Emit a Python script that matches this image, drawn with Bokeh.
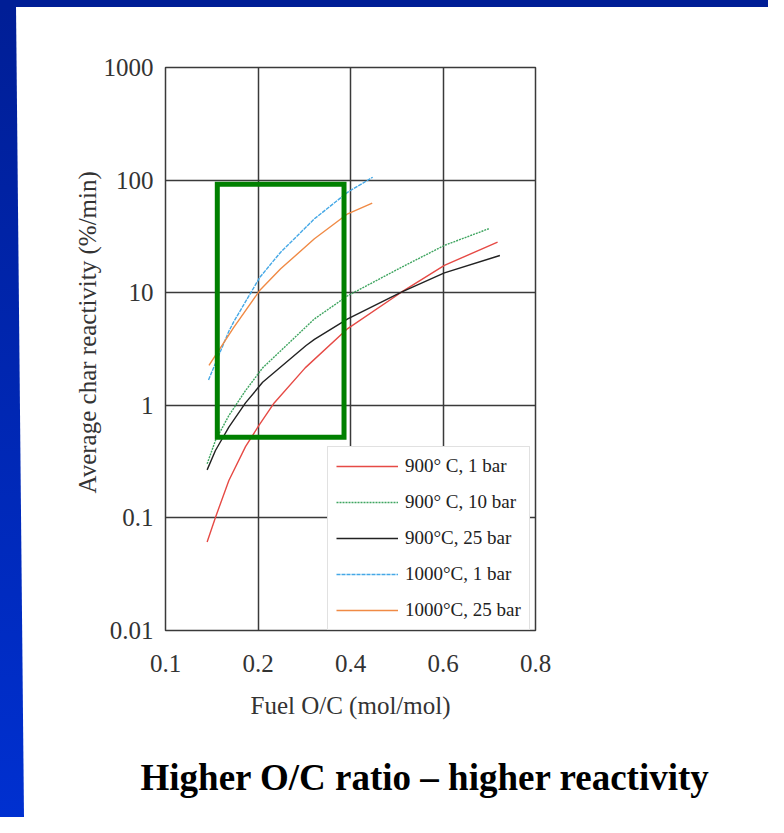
from bokeh.plotting import figure
from bokeh.models import (Range1d, FixedTicker, CustomJSTickFormatter, Div,
                          Legend, LegendItem, Title)
from bokeh.layouts import column, row
from bokeh.embed import file_html
from bokeh.resources import INLINE

# ---------------- data ----------------
X_TICKS = [0.0, 0.2, 0.4, 0.6, 0.8]
X_TICK_LABELS = ["0.1", "0.2", "0.4", "0.6", "0.8"]
Y_TICKS = [0.01, 0.1, 1, 10, 100, 1000]

red_x = [0.090, 0.108, 0.137, 0.173, 0.202, 0.235, 0.302, 0.394, 0.510, 0.603, 0.718]
red_y = [0.061, 0.101, 0.215, 0.430, 0.662, 1.05, 2.15, 4.80, 10.1, 17.5, 28.1]

green_x = [0.090, 0.108, 0.137, 0.173, 0.210, 0.322, 0.394, 0.510, 0.603, 0.699]
green_y = [0.302, 0.487, 0.811, 1.35, 2.15, 5.85, 9.40, 16.8, 26.3, 37.0]

black_x = [0.090, 0.108, 0.137, 0.173, 0.210, 0.304, 0.322, 0.394, 0.510, 0.603, 0.723]
black_y = [0.267, 0.397, 0.640, 1.05, 1.60, 3.40, 3.85, 5.86, 10.1, 15.0, 21.4]

blue_x = [0.093, 0.137, 0.148, 0.204, 0.249, 0.322, 0.394, 0.448]
blue_y = [1.68, 4.55, 5.56, 13.7, 22.9, 45.3, 78.1, 106]

orange_x = [0.094, 0.148, 0.204, 0.249, 0.322, 0.394, 0.447]
orange_y = [2.26, 4.94, 10.5, 16.3, 30.1, 50.2, 62.4]

SERIES_NAMES = ["900\u00b0 C, 1 bar", "900\u00b0 C, 10 bar", "900\u00b0C, 25 bar",
                "1000\u00b0C, 1 bar", "1000\u00b0C, 25 bar"]

# highlighted region
box_left, box_right = 0.112, 0.386
box_bottom, box_top = 0.52, 92

Y_LABEL = "Average char reactivity (%/min)"
X_LABEL = "Fuel O/C (mol/mol)"
TITLE = "Higher O/C ratio \u2013 higher reactivity"

# ---------------- styles ----------------
FONT = "Liberation Serif"
COLORS = ["#e64a45", "#3fa560", "#222222", "#45a8e6", "#f08a45"]
DASHES = ["solid", "2 1", "solid", "4 1", "solid"]
GRID = "#3a3a3a"
TEXT = "#333333"

p = figure(frame_width=370, frame_height=563,
           min_border_left=141, min_border_right=233,
           min_border_top=60, min_border_bottom=187,
           x_range=Range1d(0, 0.8), y_range=Range1d(0.01, 1000),
           y_axis_type="log", output_backend="svg", toolbar_location=None,
           background_fill_color="white", border_fill_color="white")

p.outline_line_color = GRID
p.outline_line_width = 1.5

p.xaxis.ticker = FixedTicker(ticks=X_TICKS)
p.xaxis.formatter = CustomJSTickFormatter(
    args=dict(pos=X_TICKS, labels=X_TICK_LABELS),
    code="const i = pos.findIndex(v => Math.abs(v - tick) < 1e-9); return i >= 0 ? labels[i] : '';")
p.yaxis.ticker = FixedTicker(ticks=Y_TICKS)
p.yaxis.formatter = CustomJSTickFormatter(
    code="return tick >= 1 ? tick.toFixed(0) : tick.toPrecision(1);")

for ax in (p.xaxis[0], p.yaxis[0]):
    ax.axis_line_color = None
    ax.major_tick_line_color = None
    ax.minor_tick_line_color = None
    ax.major_tick_out = 0
    ax.major_tick_in = 0
    ax.minor_tick_out = 0
    ax.minor_tick_in = 0
    ax.major_label_text_font = FONT
    ax.major_label_text_font_size = "25px"
    ax.major_label_text_color = TEXT
    ax.axis_label_text_font = FONT
    ax.axis_label_text_font_size = "25px"
    ax.axis_label_text_font_style = "normal"
    ax.axis_label_text_color = TEXT
p.xaxis.major_label_standoff = 24
p.yaxis.major_label_standoff = 12
p.xaxis.axis_label = X_LABEL
p.xaxis.axis_label_standoff = 17

p.xgrid.ticker = FixedTicker(ticks=X_TICKS)
p.ygrid.ticker = FixedTicker(ticks=Y_TICKS)
for g in (p.xgrid[0], p.ygrid[0]):
    g.grid_line_color = GRID
    g.grid_line_width = 1.5
    g.grid_line_alpha = 1.0

xs = [red_x, green_x, black_x, blue_x, orange_x]
ys = [red_y, green_y, black_y, blue_y, orange_y]
items = []
for x, y, c, d, name in zip(xs, ys, COLORS, DASHES, SERIES_NAMES):
    r = p.line(x, y, line_color=c, line_width=1.4, line_dash=d)
    items.append(LegendItem(label=name, renderers=[r]))

p.quad(left=[box_left], right=[box_right], bottom=[box_bottom], top=[box_top],
       fill_alpha=0, line_color="#008000", line_width=5, line_join="miter")

legend = Legend(items=items, location=(162, 0))
legend.label_text_font = FONT
legend.label_text_font_size = "19px"
legend.label_text_color = "#222222"
legend.label_text_baseline = "middle"
legend.glyph_width = 62
legend.glyph_height = 20
legend.label_height = 20
legend.label_standoff = 7
legend.spacing = 14
legend.padding = 8
legend.margin = 0
legend.border_line_color = "#c4c4c4"
legend.border_line_width = 1.5
legend.background_fill_color = "white"
legend.background_fill_alpha = 1.0
p.add_layout(legend)

# y-axis label (as a side title so it can sit where the original has it)
p.add_layout(Title(text=Y_LABEL, align="left", offset=137, standoff=0,
                   text_font=FONT, text_font_size="25px", text_font_style="normal",
                   text_color=TEXT), "left")

p.add_layout(Title(text=TITLE, align="left", offset=-25, standoff=67,
                   text_font=FONT, text_font_size="37px", text_font_style="bold",
                   text_color="black"), "below")

top_bar = Div(width=768, height=7, margin=0,
              styles={"background-color": "#001e96"})
left_bar = Div(width=24, height=810, margin=0,
               styles={"background": "linear-gradient(#001e96, #0030d0)",
                       "clip-path": "polygon(0 0, 66.7% 0, 100% 100%, 0 100%)"})
layout = column(top_bar, row(left_bar, p, spacing=0), spacing=0)

open("out.html", "w").write(file_html(layout, INLINE))
